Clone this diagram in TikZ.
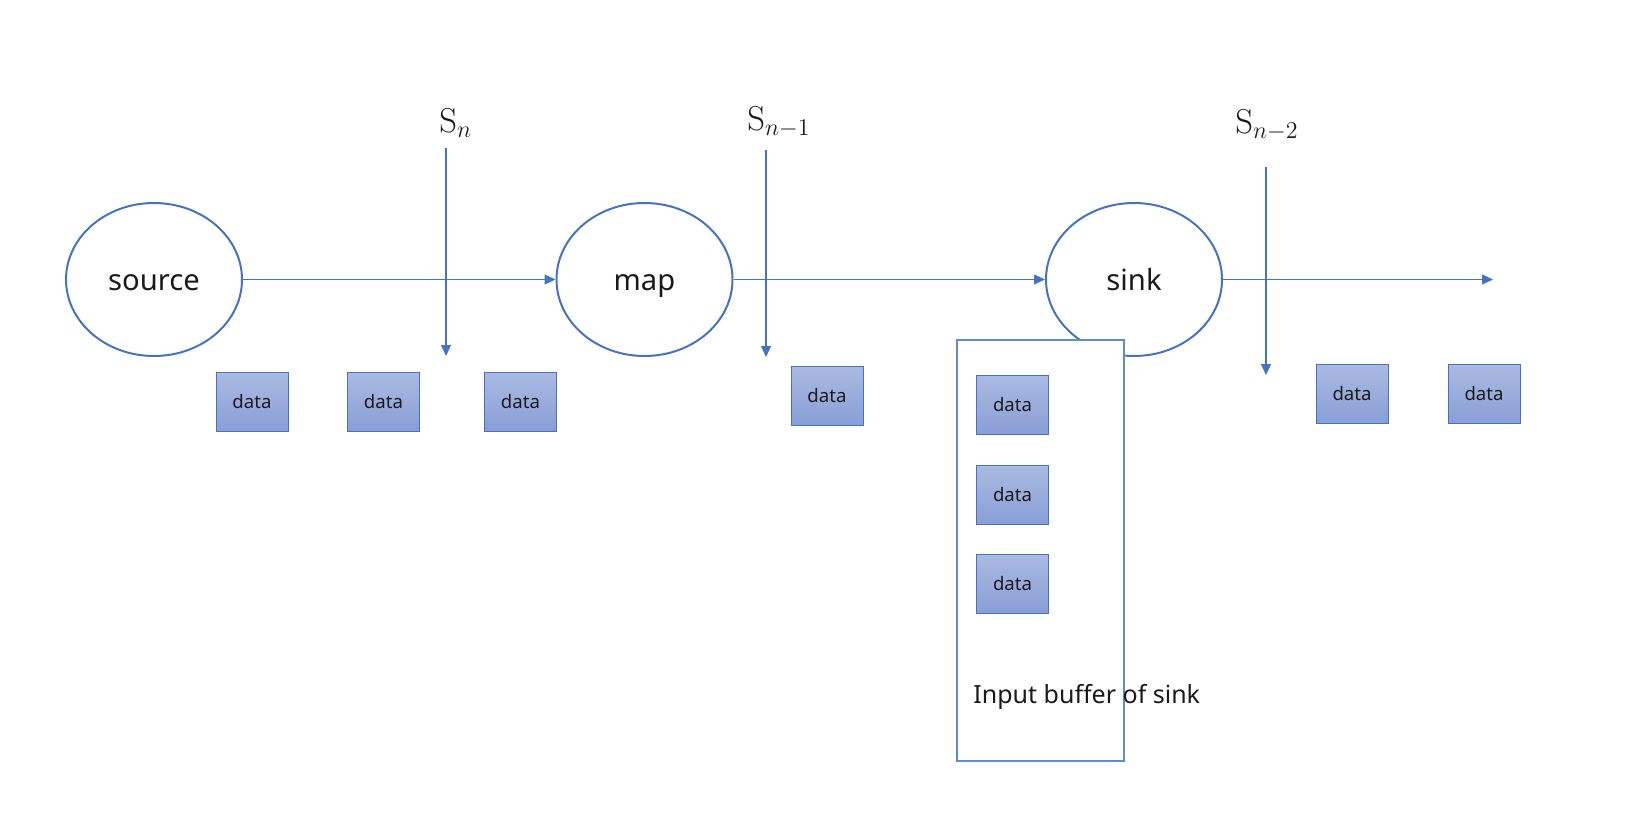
\documentclass[tikz,border=0pt]{standalone}
\usepackage[no-math]{fontspec}
\setmainfont{Noto Sans}
\usetikzlibrary{arrows.meta,shapes.geometric}
\definecolor{edge}{HTML}{4472C4}
\definecolor{bufc}{HTML}{5B8FCB}
\definecolor{dtop}{HTML}{ABBAE2}
\definecolor{dbot}{HTML}{889ED6}
\definecolor{txt}{HTML}{1A1A1A}
\begin{document}
\begin{tikzpicture}[x=0.5pt,y=-0.5pt,
  proc/.style={ellipse, draw=edge, line width=1pt, minimum width=88pt, minimum height=76.5pt, inner sep=0pt, text=txt, text height=10.5pt, text depth=0pt, font=\fontsize{14.6}{16}\selectfont},
  databox/.style={rectangle, draw=edge, line width=0.5pt, top color=dtop, bottom color=dbot, minimum width=36pt, minimum height=29.5pt, inner sep=0pt, text=txt, font=\fontsize{9.3}{11}\selectfont},
  flow/.style={draw=edge, line width=0.6pt, -{Triangle[length=5.5pt,width=5pt]}},
  slabel/.style={anchor=base west, inner sep=0pt, text=txt, font=\fontsize{17.5}{20}\selectfont},
  buffer/.style={rectangle, draw=bufc, line width=1pt, fill=white, minimum width=83.5pt, minimum height=210.5pt, inner sep=0pt}
]
\useasboundingbox (0,0) rectangle (1633,825);

% processes
\node[proc] (source) at (154,279.5) {source};
\node[proc] (map) at (644.5,279.5) {map};
\node[proc] (sink) at (1134,279.5) {sink};
\coordinate (out) at (1493,279.5);

\draw[flow] (source.east) -- (map.west);
\draw[flow] (map.east) -- (sink.west);
\draw[flow] (sink.east) -- (out);

% barrier markers
\node[slabel] (sn) at (439,132) {$\mathrm{S}_{n}$};
\node[slabel] (sn1) at (747,130) {$\mathrm{S}_{n-1}$};
\node[slabel] (sn2) at (1235,133) {$\mathrm{S}_{n-2}$};
\coordinate (snt) at (446,148);
\coordinate (snb) at (446,356);
\coordinate (sn1t) at (766,150);
\coordinate (sn1b) at (766,357);
\coordinate (sn2t) at (1266,167);
\coordinate (sn2b) at (1266,375);
\draw[flow] (snt) -- (snb);
\draw[flow] (sn1t) -- (sn1b);
\draw[flow] (sn2t) -- (sn2b);

% data records in flight
\node[databox] (d1) at (252,401.5) {data};
\node[databox] (d2) at (383.5,401.5) {data};
\node[databox] (d3) at (520.5,401.5) {data};
\node[databox] (d4) at (827,396) {data};
\node[databox] (d5) at (1352,394) {data};
\node[databox] (d6) at (1484,394) {data};

% input buffer of sink
\node[buffer] (buf) at (1040.5,550.5) {};
\node[databox] (b1) at (1012.5,405) {data};
\node[databox] (b2) at (1012.5,495) {data};
\node[databox] (b3) at (1012.5,583.5) {data};
\node[anchor=base west, inner sep=0pt, text=txt, font=\fontsize{12.5}{15}\selectfont] (buflabel) at (973,703) {Input buffer of sink};
\end{tikzpicture}
\end{document}
